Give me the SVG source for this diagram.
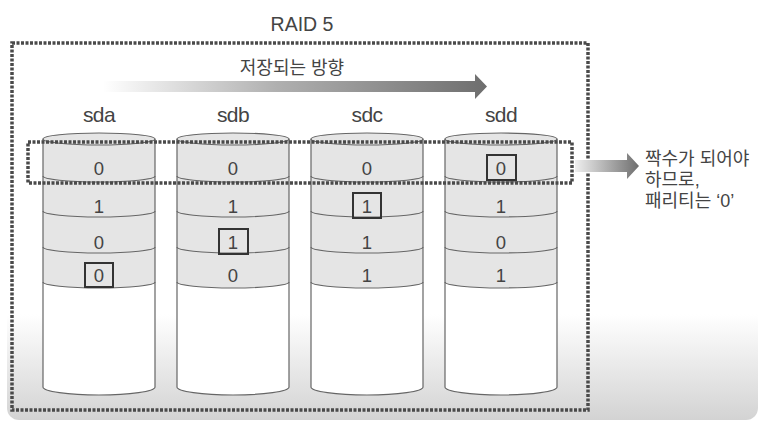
<svg xmlns="http://www.w3.org/2000/svg" width="774" height="432" viewBox="0 0 774 432">
<defs>
<linearGradient id="bg" x1="0" y1="0" x2="0" y2="1">
<stop offset="0" stop-color="#ffffff"/>
<stop offset="0.76" stop-color="#ffffff"/>
<stop offset="1" stop-color="#d3d3d3"/>
</linearGradient>
<linearGradient id="ga" gradientUnits="userSpaceOnUse" x1="103" y1="0" x2="487" y2="0">
<stop offset="0" stop-color="#ffffff"/>
<stop offset="0.45" stop-color="#b0b0b0"/>
<stop offset="1" stop-color="#6e6e6e"/>
</linearGradient>
<linearGradient id="gb" gradientUnits="userSpaceOnUse" x1="575" y1="0" x2="639" y2="0">
<stop offset="0" stop-color="#efefef"/>
<stop offset="1" stop-color="#6e6e6e"/>
</linearGradient>
</defs>
<style>
.t{font-family:"Liberation Sans","Noto Sans CJK KR",sans-serif;fill:#444}
.k{font-family:"Liberation Sans","Noto Sans CJK KR",sans-serif;fill:#444;font-size:18px}
.lbl{font-size:21px;letter-spacing:-0.6px;text-anchor:middle}
.num{font-size:18.5px;text-anchor:middle}
.dot{fill:none;stroke:#4a4a4a;stroke-width:3.5;stroke-dasharray:3 1.5}
.band{fill:#e5e5e5;stroke:none}
.body{fill:#ffffff;stroke:none}
.ln{fill:none;stroke:#666;stroke-width:1.2}
.box{fill:none;stroke:#333;stroke-width:2}
</style>
<rect x="0" y="0" width="774" height="432" fill="#ffffff"/>
<rect x="7" y="-20" width="751" height="440" rx="12" fill="url(#bg)"/>

<g id="title"><text class="t" x="302" y="31" font-size="19.5" text-anchor="middle">RAID 5</text></g>

<g id="raid-box"><rect class="dot" x="12" y="43" width="576" height="367"/></g>

<g id="direction-label"><text class="k" x="292" y="74" text-anchor="middle">저장되는 방향</text></g>

<g id="sda">
<text class="t lbl" x="99" y="122">sda</text>
<path class="body" d="M43,282 L155,282 L155,387 A56,8 0 0,1 43,387 Z"/>
<path class="band" d="M43,139 A56,6 0 0,1 155,139 L155,282 A56,6 0 0,1 43,282 Z"/>
<ellipse class="ln" cx="99" cy="139" rx="56" ry="6"/>
<path class="ln" d="M43,139 L43,387 A56,8 0 0,0 155,387 L155,139"/>
<path class="ln" d="M43,176 A56,6 0 0,0 155,176 M43,211 A56,6 0 0,0 155,211 M43,247 A56,6 0 0,0 155,247 M43,282 A56,6 0 0,0 155,282"/>
<text class="t num" x="99" y="174.5">0</text>
<text class="t num" x="99" y="212.5">1</text>
<text class="t num" x="99" y="248.5">0</text>
<text class="t num" x="99" y="281.5">0</text>
<rect class="box" x="85" y="263" width="28" height="24"/>
</g>

<g id="sdb">
<text class="t lbl" x="233" y="122">sdb</text>
<path class="body" d="M177,282 L289,282 L289,387 A56,8 0 0,1 177,387 Z"/>
<path class="band" d="M177,139 A56,6 0 0,1 289,139 L289,282 A56,6 0 0,1 177,282 Z"/>
<ellipse class="ln" cx="233" cy="139" rx="56" ry="6"/>
<path class="ln" d="M177,139 L177,387 A56,8 0 0,0 289,387 L289,139"/>
<path class="ln" d="M177,176 A56,6 0 0,0 289,176 M177,211 A56,6 0 0,0 289,211 M177,247 A56,6 0 0,0 289,247 M177,282 A56,6 0 0,0 289,282"/>
<text class="t num" x="233" y="174.5">0</text>
<text class="t num" x="233" y="212.5">1</text>
<text class="t num" x="233" y="248.5">1</text>
<text class="t num" x="233" y="281.5">0</text>
<rect class="box" x="219" y="229" width="29" height="25"/>
</g>

<g id="sdc">
<text class="t lbl" x="367" y="122">sdc</text>
<path class="body" d="M311,282 L423,282 L423,387 A56,8 0 0,1 311,387 Z"/>
<path class="band" d="M311,139 A56,6 0 0,1 423,139 L423,282 A56,6 0 0,1 311,282 Z"/>
<ellipse class="ln" cx="367" cy="139" rx="56" ry="6"/>
<path class="ln" d="M311,139 L311,387 A56,8 0 0,0 423,387 L423,139"/>
<path class="ln" d="M311,176 A56,6 0 0,0 423,176 M311,211 A56,6 0 0,0 423,211 M311,247 A56,6 0 0,0 423,247 M311,282 A56,6 0 0,0 423,282"/>
<text class="t num" x="367" y="174.5">0</text>
<text class="t num" x="367" y="212.5">1</text>
<text class="t num" x="367" y="248.5">1</text>
<text class="t num" x="367" y="281.5">1</text>
<rect class="box" x="353" y="193" width="28" height="25"/>
</g>

<g id="sdd">
<text class="t lbl" x="501" y="122">sdd</text>
<path class="body" d="M445,282 L557,282 L557,387 A56,8 0 0,1 445,387 Z"/>
<path class="band" d="M445,139 A56,6 0 0,1 557,139 L557,282 A56,6 0 0,1 445,282 Z"/>
<ellipse class="ln" cx="501" cy="139" rx="56" ry="6"/>
<path class="ln" d="M445,139 L445,387 A56,8 0 0,0 557,387 L557,139"/>
<path class="ln" d="M445,176 A56,6 0 0,0 557,176 M445,211 A56,6 0 0,0 557,211 M445,247 A56,6 0 0,0 557,247 M445,282 A56,6 0 0,0 557,282"/>
<text class="t num" x="501" y="174.5">0</text>
<text class="t num" x="501" y="212.5">1</text>
<text class="t num" x="501" y="248.5">0</text>
<text class="t num" x="501" y="281.5">1</text>
<rect class="box" x="487" y="155" width="29" height="25"/>
</g>

<g id="parity-stripe"><rect class="dot" x="28" y="142" width="544" height="41"/></g>

<g id="note">
<text class="k" x="645" y="165">짝수가 되어야</text>
<text class="k" x="645" y="186">하므로,</text>
<text class="k" x="645" y="207">패리티는 ‘0’</text>
</g>

<g id="connectors">
<polygon fill="url(#ga)" points="103,81 475,81 475,74 487,86.5 475,99 475,92 103,92"/>
<polygon fill="url(#gb)" points="575,160 627,160 627,153 639,166 627,179 627,172 575,172"/>
</g>
</svg>
